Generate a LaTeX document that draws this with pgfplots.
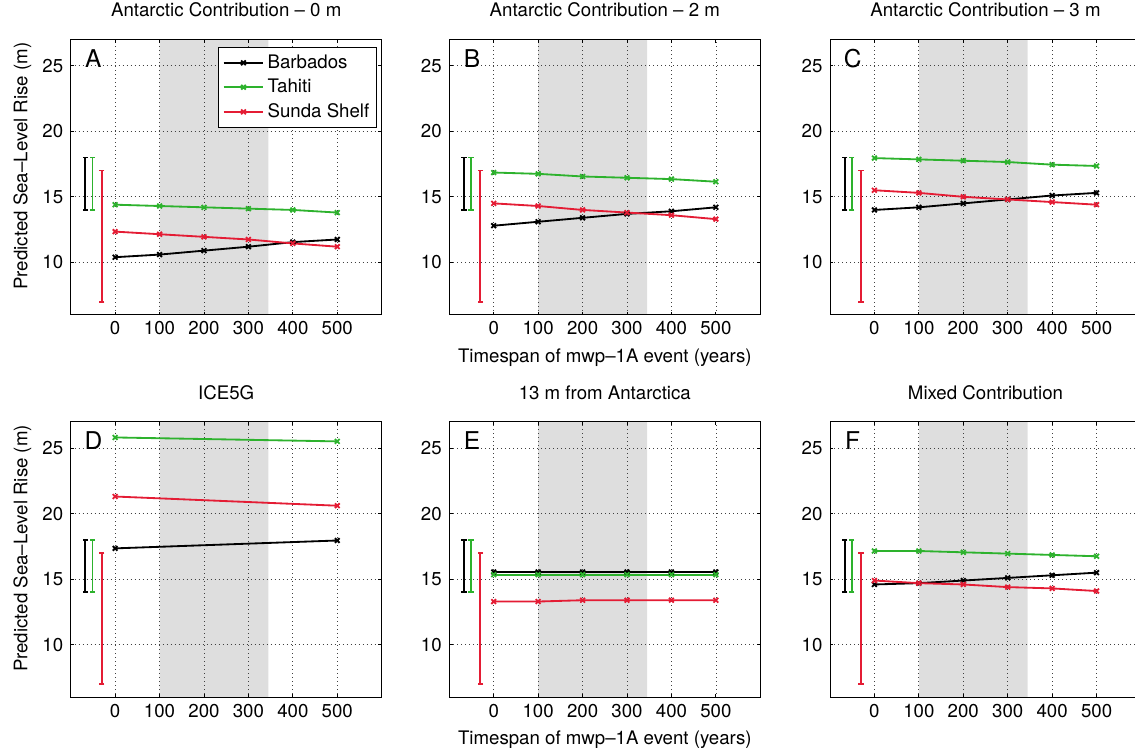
\documentclass[border=0pt]{standalone}
\usepackage{fontspec}
\setmainfont{TeX Gyre Heros}
\usepackage{pgfplots}
\pgfplotsset{compat=1.18}

\definecolor{bar}{RGB}{0,0,0}
\definecolor{tah}{RGB}{45,178,45}
\definecolor{sun}{RGB}{228,28,52}
\definecolor{shade}{RGB}{222,222,222}

\pgfplotsset{
  panel/.style={
    set layers,
    scale only axis,
    width=186.6pt, height=165.4pt,
    anchor=north west,
    xmin=-100, xmax=600, ymin=6, ymax=27,
    xtick={0,100,200,300,400,500},
    ytick={10,15,20,25},
    grid=major,
    major grid style={dotted, black!75, line width=0.45pt},
    tick align=inside,
    major tick length=2pt,
    axis line style={line width=0.6pt},
    every tick/.style={black, line width=0.5pt},
    /pgf/number format/assume math mode=true,
    font=\fontsize{11.2}{13}\selectfont,
    ticklabel style={font=\fontsize{11.2}{13}\selectfont},
    xticklabel style={anchor=base, yshift=-12pt},
    yticklabel style={xshift=-1pt},
    title style={at={(0.5,1)}, anchor=base, yshift=7.6pt, font=\fontsize{11.2}{13}\selectfont},
    xlabel style={at={(axis description cs:0.5,0)}, anchor=base, yshift=-28.5pt},
    ylabel style={at={(axis description cs:-0.155,0.54)}, anchor=center},
    every axis plot/.append style={line width=1.1pt, mark=x, mark size=2pt, mark options={solid}},
    legend image code/.code={\draw[mark repeat=2, mark phase=2] plot coordinates {(0cm,0cm) (0.42cm,0cm) (0.84cm,0cm)};},
  },
  shadebox/.style={fill=shade, draw=none, mark=none, on layer=axis background, forget plot},
  ebar/.style={mark=-, mark size=1.6pt, line width=1.1pt, forget plot},
}

\newcommand{\shadeplot}{\addplot[shadebox] coordinates {(100,6) (345,6) (345,27) (100,27) (100,6)};}
\newcommand{\errbars}{%
  \addplot[ebar, color=bar] coordinates {(-67,14) (-67,18)};
  \addplot[ebar, color=tah] coordinates {(-51,14) (-51,18)};
  \addplot[ebar, color=sun] coordinates {(-30,7) (-30,17)};
}
\newcommand{\panelletter}[1]{\node at (rel axis cs:0.073,0.931) {\fontsize{14.7}{16}\selectfont #1};}

\begin{document}
\begin{tikzpicture}

% A
\begin{axis}[panel, at={(42.42pt,-23.58pt)},
  title={Antarctic Contribution -- 0 m},
  ylabel={Predicted Sea--Level Rise (m)},
  legend style={at={(rel axis cs:0.986,0.973)}, anchor=north east, draw=black, line width=0.6pt,
    font=\fontsize{11.2}{13}\selectfont, inner sep=2.5pt, row sep=1pt},
  legend cell align=left]
  \shadeplot
  \errbars
  \addplot[color=bar] coordinates {(0,10.4) (100,10.6) (200,10.9) (300,11.2) (400,11.55) (500,11.75)};
  \addplot[color=tah] coordinates {(0,14.4) (100,14.3) (200,14.2) (300,14.1) (400,14.0) (500,13.8)};
  \addplot[color=sun] coordinates {(0,12.35) (100,12.15) (200,11.95) (300,11.75) (400,11.45) (500,11.2)};
  \legend{Barbados, Tahiti, Sunda Shelf}
  \panelletter{A}
\end{axis}

% B
\begin{axis}[panel, at={(269.58pt,-23.58pt)},
  title={Antarctic Contribution -- 2 m},
  xlabel={Timespan of mwp--1A event (years)}]
  \shadeplot
  \errbars
  \addplot[color=bar] coordinates {(0,12.8) (100,13.1) (200,13.4) (300,13.7) (400,13.9) (500,14.2)};
  \addplot[color=tah] coordinates {(0,16.85) (100,16.75) (200,16.55) (300,16.45) (400,16.35) (500,16.15)};
  \addplot[color=sun] coordinates {(0,14.5) (100,14.3) (200,14.0) (300,13.8) (400,13.6) (500,13.3)};
  \panelletter{B}
\end{axis}

% C
\begin{axis}[panel, at={(498pt,-23.58pt)},
  title={Antarctic Contribution -- 3 m}]
  \shadeplot
  \errbars
  \addplot[color=bar] coordinates {(0,14.0) (100,14.2) (200,14.5) (300,14.8) (400,15.1) (500,15.3)};
  \addplot[color=tah] coordinates {(0,17.95) (100,17.85) (200,17.75) (300,17.65) (400,17.45) (500,17.35)};
  \addplot[color=sun] coordinates {(0,15.5) (100,15.3) (200,15.0) (300,14.8) (400,14.6) (500,14.4)};
  \panelletter{C}
\end{axis}

% D
\begin{axis}[panel, at={(42.42pt,-253.02pt)},
  title={ICE5G},
  ylabel={Predicted Sea--Level Rise (m)}]
  \shadeplot
  \errbars
  \addplot[color=bar] coordinates {(0,17.35) (500,17.95)};
  \addplot[color=tah] coordinates {(0,25.8) (500,25.5)};
  \addplot[color=sun] coordinates {(0,21.3) (500,20.6)};
  \panelletter{D}
\end{axis}

% E
\begin{axis}[panel, at={(269.58pt,-253.02pt)},
  title={13 m from Antarctica},
  xlabel={Timespan of mwp--1A event (years)}]
  \shadeplot
  \errbars
  \addplot[color=bar] coordinates {(0,15.55) (100,15.55) (200,15.55) (300,15.55) (400,15.55) (500,15.55)};
  \addplot[color=tah] coordinates {(0,15.35) (100,15.35) (200,15.35) (300,15.35) (400,15.35) (500,15.35)};
  \addplot[color=sun] coordinates {(0,13.3) (100,13.3) (200,13.4) (300,13.4) (400,13.4) (500,13.4)};
  \panelletter{E}
\end{axis}

% F
\begin{axis}[panel, at={(498pt,-253.02pt)},
  title={Mixed Contribution}]
  \shadeplot
  \errbars
  \addplot[color=bar] coordinates {(0,14.6) (100,14.7) (200,14.9) (300,15.1) (400,15.3) (500,15.5)};
  \addplot[color=tah] coordinates {(0,17.15) (100,17.15) (200,17.05) (300,16.95) (400,16.85) (500,16.75)};
  \addplot[color=sun] coordinates {(0,14.9) (100,14.7) (200,14.6) (300,14.4) (400,14.3) (500,14.1)};
  \panelletter{F}
\end{axis}

\pgfresetboundingbox
\path (0,0) rectangle (681pt,-448.8pt);
\end{tikzpicture}
\end{document}
